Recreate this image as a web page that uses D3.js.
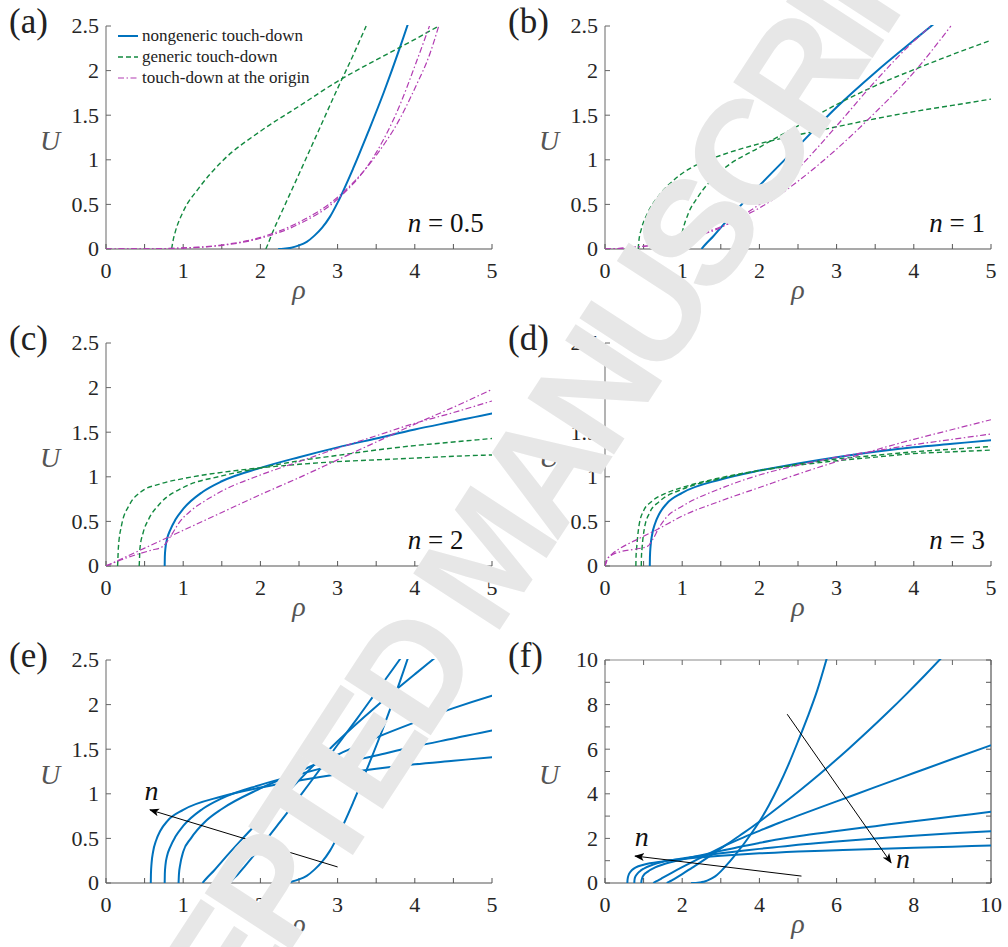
<!DOCTYPE html>
<html><head><meta charset="utf-8">
<script src="https://cdn.jsdelivr.net/npm/d3@7/dist/d3.min.js"></script>
<style>
body{margin:0;background:#fff;}svg{display:block;}
svg text{font-family:"Liberation Serif","Times New Roman",serif;}
svg text.wm{font-family:"Liberation Sans",Arial,sans-serif;}
</style>
</head><body>
<svg id="chart" width="1008" height="947"></svg>
<script>
// ---------------- DATA ----------------
// nongeneric touch-down curves, [rho, U], one per n
const ng_n05 = [[2.23,0],[2.3,0.003],[2.4,0.015],[2.5,0.04],[2.6,0.08],[2.7,0.15],[2.8,0.24],[2.9,0.36],[3.0,0.52],[3.2,0.9],[3.4,1.32],[3.6,1.76],[3.8,2.24],[4.0,2.76],[4.25,3.5],[4.5,4.35],[4.75,5.3],[5.0,6.35],[5.25,7.45],[5.5,8.65],[5.75,10.1]];
const ng_n075 = [[1.6,0],[1.63,0.03],[1.7,0.09],[1.8,0.19],[2.0,0.4],[2.25,0.68],[2.5,0.96],[2.75,1.25],[3.0,1.55],[3.25,1.84],[3.5,2.14],[3.8,2.5],[4.3,3.14],[4.8,3.81],[5.3,4.51],[5.8,5.24],[6.3,6.0],[6.8,6.79],[7.3,7.61],[7.8,8.46],[8.3,9.34],[8.8,10.25]];
const ng_n1 = [[1.25,0],[1.3,0.05],[1.4,0.14],[1.5,0.24],[1.75,0.48],[2.0,0.71],[2.5,1.15],[3.0,1.59],[3.5,1.98],[4.0,2.34],[4.5,2.69],[5.0,3.02],[6.0,3.66],[7.0,4.3],[8.0,4.93],[9.0,5.56],[10.0,6.18]];
const ng_n15 = [[0.94,0],[0.945,0.1],[0.96,0.2],[1.0,0.35],[1.1,0.5],[1.3,0.7],[1.5,0.83],[2.0,1.06],[2.5,1.25],[3.0,1.44],[3.5,1.63],[4.0,1.8],[4.5,1.96],[5.0,2.1],[6.0,2.33],[7.0,2.55],[8.0,2.77],[9.0,2.98],[10.0,3.19]];
const ng_n2 = [[0.76,0],[0.762,0.1],[0.77,0.2],[0.79,0.3],[0.83,0.4],[0.9,0.52],[1.0,0.64],[1.25,0.83],[1.5,0.95],[2.0,1.1],[2.5,1.22],[3.0,1.33],[3.5,1.43],[4.0,1.53],[4.5,1.62],[5.0,1.71],[6.0,1.86],[7.0,2.0],[8.0,2.12],[9.0,2.23],[10.0,2.32]];
const ng_n3 = [[0.58,0],[0.582,0.1],[0.59,0.22],[0.61,0.35],[0.65,0.48],[0.7,0.58],[0.8,0.7],[1.0,0.82],[1.5,0.97],[2.0,1.07],[2.5,1.15],[3.0,1.22],[3.5,1.28],[4.0,1.33],[4.5,1.37],[5.0,1.41],[6.0,1.47],[7.0,1.53],[8.0,1.58],[9.0,1.63],[10.0,1.68]];

// generic touch-down curves (two per panel)
const gA1 = [[0.85,0],[0.87,0.1],[0.9,0.2],[1.0,0.42],[1.2,0.68],[1.5,0.98],[2.0,1.32],[2.5,1.6],[3.0,1.88],[3.5,2.12],[4.0,2.35],[4.31,2.5]];
const gA2 = [[2.07,0],[2.1,0.06],[2.15,0.17],[2.3,0.46],[2.5,0.84],[2.75,1.32],[3.0,1.8],[3.2,2.17],[3.37,2.5]];
const gB1 = [[0.43,0],[0.44,0.1],[0.47,0.22],[0.55,0.4],[0.7,0.6],[0.9,0.78],[1.2,0.95],[1.5,1.05],[2.0,1.18],[2.5,1.28],[3.0,1.37],[3.5,1.46],[4.0,1.54],[4.5,1.61],[5.0,1.68]];
const gB2 = [[0.97,0],[0.98,0.1],[1.01,0.22],[1.08,0.4],[1.2,0.58],[1.5,0.87],[2.0,1.14],[2.5,1.38],[3.0,1.62],[3.5,1.83],[4.0,2.01],[4.5,2.18],[5.0,2.34]];
const gC1 = [[0.15,0],[0.155,0.1],[0.16,0.2],[0.2,0.45],[0.3,0.68],[0.45,0.83],[0.7,0.92],[1.0,0.98],[1.5,1.05],[2.0,1.1],[2.5,1.14],[3.0,1.17],[3.5,1.19],[4.0,1.21],[4.5,1.23],[5.0,1.245]];
const gC2 = [[0.43,0],[0.435,0.1],[0.44,0.2],[0.48,0.37],[0.55,0.52],[0.7,0.7],[1.0,0.88],[1.5,1.01],[2.0,1.1],[2.5,1.18],[3.0,1.24],[3.5,1.3],[4.0,1.35],[4.5,1.39],[5.0,1.43]];
const gD1 = [[0.4,0],[0.402,0.1],[0.41,0.2],[0.44,0.45],[0.5,0.62],[0.6,0.72],[0.8,0.82],[1.0,0.88],[1.5,0.99],[2.0,1.07],[2.5,1.13],[3.0,1.18],[3.5,1.22],[4.0,1.26],[4.5,1.28],[5.0,1.3]];
const gD2 = [[0.47,0],[0.472,0.1],[0.48,0.2],[0.51,0.42],[0.58,0.6],[0.7,0.72],[1.0,0.86],[1.5,0.98],[2.0,1.07],[2.5,1.14],[3.0,1.2],[3.5,1.24],[4.0,1.28],[4.5,1.31],[5.0,1.34]];

// touch-down at the origin curves (two per panel)
const mA1 = [[0,0],[0.5,0.002],[1.0,0.01],[1.5,0.04],[2.0,0.12],[2.5,0.28],[3.0,0.56],[3.5,1.08],[3.8,1.6],[4.0,2.05],[4.19,2.5]];
const mA2 = [[0,0],[0.5,0.002],[1.0,0.012],[1.5,0.045],[2.0,0.13],[2.5,0.3],[3.0,0.58],[3.5,1.05],[3.8,1.45],[4.0,1.8],[4.2,2.2],[4.31,2.5]];
const mB1 = [[0,0],[0.25,0.01],[0.5,0.03],[0.75,0.06],[1.0,0.1],[1.25,0.16],[1.5,0.24],[1.75,0.36],[2.0,0.5],[2.5,0.9],[3.0,1.38],[3.5,1.88],[4.0,2.33],[4.22,2.5]];
const mB2 = [[0,0],[0.25,0.01],[0.5,0.03],[0.75,0.06],[1.0,0.11],[1.25,0.17],[1.5,0.25],[1.75,0.35],[2.0,0.46],[2.5,0.76],[3.0,1.12],[3.5,1.53],[4.0,1.98],[4.48,2.5]];
const mC1 = [[0,0],[0.5,0.2],[1.0,0.4],[1.5,0.6],[2.0,0.8],[2.5,0.99],[3.0,1.19],[3.5,1.39],[4.0,1.59],[4.5,1.78],[5.0,1.98]];
const mC2 = [[0,0],[0.2,0.07],[0.4,0.13],[0.6,0.18],[0.72,0.21],[0.78,0.26],[0.85,0.35],[0.95,0.49],[1.1,0.62],[1.3,0.74],[1.5,0.84],[2.0,1.02],[2.5,1.17],[3.0,1.32],[3.5,1.46],[4.0,1.6],[4.5,1.72],[5.0,1.85]];
const mD1 = [[0,0],[0.03,0.07],[0.1,0.14],[0.2,0.2],[0.4,0.29],[0.7,0.42],[1.0,0.56],[1.5,0.73],[2.0,0.88],[2.5,1.03],[3.0,1.17],[3.5,1.3],[4.0,1.42],[4.5,1.53],[5.0,1.64]];
const mD2 = [[0,0],[0.03,0.08],[0.1,0.13],[0.2,0.16],[0.4,0.19],[0.55,0.22],[0.62,0.3],[0.7,0.43],[0.8,0.55],[1.0,0.67],[1.5,0.87],[2.0,1.02],[2.5,1.13],[3.0,1.22],[3.5,1.29],[4.0,1.36],[4.5,1.42],[5.0,1.48]];

// ticks
const xTicks5 = [0,0.5,1,1.5,2,2.5,3,3.5,4,4.5,5];
const xTickLabels5 = [0,1,2,3,4,5];
const yTicks25 = [0,0.5,1,1.5,2,2.5];
const yTickLabels25 = ["0","0.5","1","1.5","2","2.5"];
const xTicks10 = [0,1,2,3,4,5,6,7,8,9,10];
const xTickLabels10 = [0,2,4,6,8,10];
const yTicks10 = [0,1,2,3,4,5,6,7,8,9,10];
const yTickLabels10 = ["0","2","4","6","8","10"];

// legend
const legendLabels = ["nongeneric touch-down","generic touch-down","touch-down at the origin"];
const legendTypes = ["ng","gen","org"];

// panel annotations: n values [rho, U, text]
const nLabelA = [3.91, 0.19, "0.5"];
const nLabelB = [4.2, 0.19, "1"];
const nLabelC = [3.91, 0.19, "2"];
const nLabelD = [4.2, 0.19, "3"];

// arrows: [[rho0,U0],[rho1,U1]] (tail -> head), and n label positions
const arrowE = [[3.0,0.18],[0.57,0.82]];
const arrowELabel = [0.59,1.0];
const arrowF1 = [[5.09,0.31],[0.78,1.21]];
const arrowF1Label = [0.95,1.92];
const arrowF2 = [[4.72,7.57],[7.41,0.91]];
const arrowF2Label = [7.72,0.94];

// ---------------- DRAWING ----------------
const svg = d3.select('#chart');
const styles = {
  ng:  {stroke:'#0072BD', width:2,   dash:null},
  gen: {stroke:'#12893f', width:1.4, dash:'5,3'},
  org: {stroke:'#b23cb2', width:1.2, dash:'6,2.5,1.5,2.5'}
};

const defs = svg.append('defs');
defs.append('marker').attr('id','arrowhead')
  .attr('viewBox','0 0 10 10').attr('refX',9).attr('refY',5)
  .attr('markerWidth',10).attr('markerHeight',10)
  .attr('markerUnits','userSpaceOnUse').attr('orient','auto')
  .append('path').attr('d','M0,1 L10,5 L0,9 L2.5,5 Z').attr('fill','#000');

const W = 386, H = 223;
const panels = [
  {id:'a', label:'(a)', left:106, top:26, xmax:5, ymax:2.5,
   series:[[ng_n05,'ng'],[gA1,'gen'],[gA2,'gen'],[mA1,'org'],[mA2,'org']], nLabel:nLabelA, legend:true},
  {id:'b', label:'(b)', left:605, top:26, xmax:5, ymax:2.5,
   series:[[ng_n1,'ng'],[gB1,'gen'],[gB2,'gen'],[mB1,'org'],[mB2,'org']], nLabel:nLabelB},
  {id:'c', label:'(c)', left:106, top:343, xmax:5, ymax:2.5,
   series:[[ng_n2,'ng'],[gC1,'gen'],[gC2,'gen'],[mC1,'org'],[mC2,'org']], nLabel:nLabelC},
  {id:'d', label:'(d)', left:605, top:343, xmax:5, ymax:2.5,
   series:[[ng_n3,'ng'],[gD1,'gen'],[gD2,'gen'],[mD1,'org'],[mD2,'org']], nLabel:nLabelD},
  {id:'e', label:'(e)', left:106, top:660, xmax:5, ymax:2.5,
   series:[[ng_n05,'ng'],[ng_n075,'ng'],[ng_n1,'ng'],[ng_n15,'ng'],[ng_n2,'ng'],[ng_n3,'ng']],
   arrows:[[arrowE, arrowELabel]]},
  {id:'f', label:'(f)', left:605, top:660, xmax:10, ymax:10, box:true,
   series:[[ng_n05,'ng'],[ng_n075,'ng'],[ng_n1,'ng'],[ng_n15,'ng'],[ng_n2,'ng'],[ng_n3,'ng']],
   arrows:[[arrowF1, arrowF1Label],[arrowF2, arrowF2Label]]}
];

panels.forEach(p => {
  const g = svg.append('g').attr('transform', `translate(${p.left},${p.top})`);
  const x = d3.scaleLinear().domain([0, p.xmax]).range([0, W]);
  const y = d3.scaleLinear().domain([0, p.ymax]).range([H, 0]);
  const xt = p.box ? xTicks10 : xTicks5;
  const xl = p.box ? xTickLabels10 : xTickLabels5;
  const yt = p.box ? yTicks10 : yTicks25;
  const yl = p.box ? yTickLabels10 : yTickLabels25;

  // axes lines and inward ticks
  const ax = g.append('g');
  ax.append('line').attr('x1',0).attr('x2',0).attr('y1',0).attr('y2',H).attr('stroke','#808080').attr('stroke-width',1.2);
  ax.append('line').attr('x1',0).attr('x2',W).attr('y1',H).attr('y2',H).attr('stroke','#555').attr('stroke-width',1.2);
  ax.selectAll('.xt').data(xt).join('line')
    .attr('x1',d=>x(d)).attr('x2',d=>x(d)).attr('y1',H).attr('y2',H-5)
    .attr('stroke','#555').attr('stroke-width',1);
  ax.selectAll('.yt').data(yt).join('line')
    .attr('x1',0).attr('x2',5).attr('y1',d=>y(d)).attr('y2',d=>y(d))
    .attr('stroke','#666').attr('stroke-width',1);
  if (p.box) {
    ax.append('line').attr('x1',0).attr('x2',W).attr('y1',0).attr('y2',0).attr('stroke','#8a8a8a').attr('stroke-width',1.2);
    ax.append('line').attr('x1',W).attr('x2',W).attr('y1',0).attr('y2',H).attr('stroke','#555').attr('stroke-width',1.2);
    ax.selectAll('.xt2').data(xt).join('line')
      .attr('x1',d=>x(d)).attr('x2',d=>x(d)).attr('y1',0).attr('y2',5)
      .attr('stroke','#666').attr('stroke-width',1);
    ax.selectAll('.yt2').data(yt).join('line')
      .attr('x1',W).attr('x2',W-5).attr('y1',d=>y(d)).attr('y2',d=>y(d))
      .attr('stroke','#555').attr('stroke-width',1);
  }

  // tick labels
  g.selectAll('.xl').data(xl).join('text')
    .attr('x',d=>x(d)).attr('y',H+28.5).attr('text-anchor','middle')
    .style('font-size','22px').attr('fill','#262626').text(d=>d);
  g.selectAll('.yl').data(yl).join('text')
    .attr('x',-7).attr('y',d=>y(+d)).attr('dy','0.34em').attr('text-anchor','end')
    .style('font-size','22px').attr('fill','#262626').text(d=>d);

  // axis labels
  g.append('text').attr('x',-56).attr('y',124).attr('text-anchor','middle')
    .style('font-size','28px').style('font-style','italic')
    .attr('fill','#555').text('U');
  g.append('text').attr('x',W/2).attr('y',H+50).attr('text-anchor','middle')
    .style('font-size','28px').style('font-style','italic')
    .attr('fill','#555').text('ρ');

  // panel label
  svg.append('text').attr('x',p.left-97).attr('y',p.top+7)
    .style('font-size','35px').attr('fill','#222').text(p.label);

  // curves
  const cid = 'clip-' + p.id;
  defs.append('clipPath').attr('id',cid).append('rect')
    .attr('x',0).attr('y',-1).attr('width',W).attr('height',H+1);
  const line = d3.line().x(d=>x(d[0])).y(d=>y(d[1])).curve(d3.curveMonotoneX);
  const plot = g.append('g').attr('clip-path',`url(#${cid})`);
  p.series.forEach(([data,type]) => {
    const s = styles[type];
    plot.append('path').attr('d', line(data)).attr('fill','none')
      .attr('stroke', s.stroke).attr('stroke-width', s.width)
      .attr('stroke-dasharray', s.dash).attr('stroke-linejoin','round');
  });

  // n annotation
  if (p.nLabel) {
    const t = g.append('text').attr('x', x(p.nLabel[0])).attr('y', y(p.nLabel[1]))
      .style('font-size','27px').attr('fill','#111');
    t.append('tspan').style('font-style','italic').text('n');
    t.append('tspan').text(' = ' + p.nLabel[2]);
  }

  // arrows
  if (p.arrows) {
    p.arrows.forEach(([a, lab]) => {
      g.append('line').attr('x1',x(a[0][0])).attr('y1',y(a[0][1]))
        .attr('x2',x(a[1][0])).attr('y2',y(a[1][1]))
        .attr('stroke','#000').attr('stroke-width',1).attr('marker-end','url(#arrowhead)');
      g.append('text').attr('x',x(lab[0])).attr('y',y(lab[1])).attr('dy','0.22em')
        .attr('text-anchor','middle')
        .style('font-size','28px').style('font-style','italic')
        .attr('fill','#111').text('n');
    });
  }

  // legend
  if (p.legend) {
    const lg = g.append('g').attr('transform','translate(12,10)');
    legendLabels.forEach((lab,i) => {
      const s = styles[legendTypes[i]];
      lg.append('line').attr('x1',0).attr('x2',20).attr('y1',i*21).attr('y2',i*21)
        .attr('stroke',s.stroke).attr('stroke-width',s.width).attr('stroke-dasharray',s.dash);
      lg.append('text').attr('x',24).attr('y',i*21).attr('dy','0.32em')
        .style('font-size','17px').attr('fill','#222').text(lab);
    });
  }
});

// watermark (drawn on top, as in the reference)
svg.append('text').attr('class','wm')
  .attr('transform','translate(482,558) rotate(-56.9)')
  .attr('text-anchor','middle').attr('dy','0.36em')
  .style('font-weight','bold').style('letter-spacing','-12px')
  .style('font-size','150px').attr('fill','#e7e7e7')
  .text('ACCEPTED MANUSCRIPT');
</script>
</body></html>
